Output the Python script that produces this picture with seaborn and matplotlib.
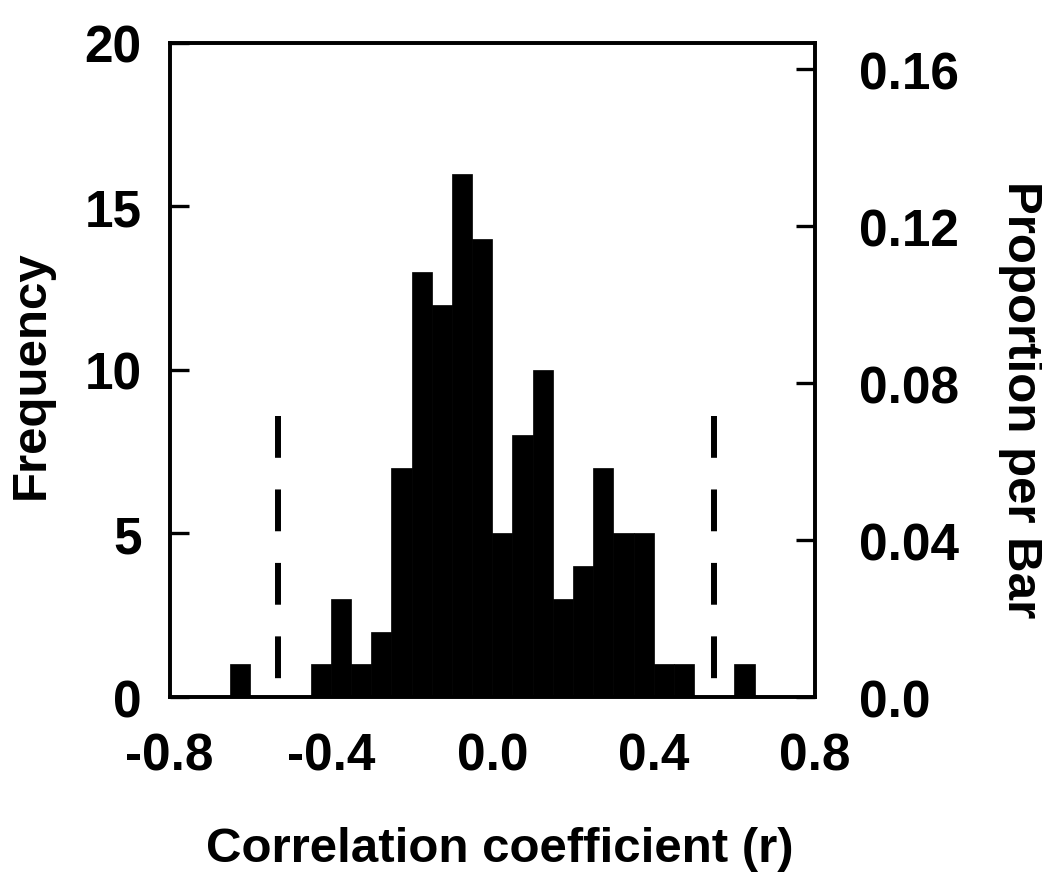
import matplotlib
matplotlib.use("Agg")
import matplotlib.pyplot as plt
import numpy as np
import pandas as pd
import seaborn as sns

# histogram bins (left edges, width 0.05) and counts
bin_left = [-0.65, -0.45, -0.40, -0.35, -0.30, -0.25, -0.20, -0.15, -0.10, -0.05,
            0.00, 0.05, 0.10, 0.15, 0.20, 0.25, 0.30, 0.35, 0.40, 0.45, 0.60]
counts = [1, 1, 3, 1, 2, 7, 13, 12, 16, 14,
          5, 8, 10, 3, 4, 7, 5, 5, 1, 1, 1]
bin_width = 0.05

# dashed reference lines (x position, y extent in counts)
ref_x = [-0.53, 0.55]
ref_top = 8.6
ref_bottom = 0.46

x_ticks = [-0.8, -0.4, 0.0, 0.4, 0.8]
x_ticklabels = ['-0.8', '-0.4', '0.0', '0.4', '0.8']
left_ticks = [0, 5, 10, 15, 20]
right_ticks = [0.0, 0.04, 0.08, 0.12, 0.16]
right_ticklabels = ['0.0', '0.04', '0.08', '0.12', '0.16']

sns.set_style('white')
plt.rcParams['font.family'] = ['Liberation Sans', 'DejaVu Sans']
plt.rcParams['font.weight'] = 'bold'
plt.rcParams['text.color'] = 'black'
plt.rcParams['axes.labelcolor'] = 'black'
plt.rcParams['xtick.color'] = 'black'
plt.rcParams['ytick.color'] = 'black'

fig = plt.figure(figsize=(10.42, 8.78), dpi=100)
ax = fig.add_axes([0.1627, 0.205, 0.6195, 0.745])

df = pd.DataFrame({'r': np.array(bin_left) + bin_width / 2, 'n': counts})
edges = [round(v, 4) for v in np.arange(-0.8, 0.8 + bin_width / 2, bin_width)]
sns.histplot(data=df, x='r', weights='n', bins=edges, color='black', alpha=1,
             edgecolor='black', linewidth=0.5, ax=ax)

for xv in ref_x:
    ax.plot([xv, xv], [ref_top, ref_bottom], color='black', lw=4.3,
            dashes=(7, 5.3), solid_capstyle='butt', dash_capstyle='butt')

ax.set_xlim(-0.8, 0.8)
ax.set_ylim(0, 20)
ax.set_xticks(x_ticks)
ax.set_xticklabels(x_ticklabels)
ax.set_yticks(left_ticks)

total = sum(counts)
ax2 = ax.twinx()
ax2.set_ylim(0, 20 / total)
ax2.set_yticks(right_ticks)
ax2.set_yticklabels(right_ticklabels)

for a in (ax, ax2):
    for s in a.spines.values():
        s.set_linewidth(2.6)
        s.set_color('black')
        s.set_visible(True)

ax.tick_params(axis='x', length=0, pad=25, labelsize=37, labelcolor='black')
ax.tick_params(axis='y', direction='in', length=14, width=2.4, pad=20,
               labelsize=37, labelcolor='black')
ax2.tick_params(axis='y', direction='in', length=14, width=2.4, pad=32,
                labelsize=37, labelcolor='black')

ax.set_xlabel('Correlation coefficient (r)', fontsize=35.5, fontweight='bold', color='black')
ax.set_ylabel('Frequency', fontsize=35.5, fontweight='bold', color='black')
ax2.set_ylabel('Proportion per Bar', fontsize=35.5, fontweight='bold', color='black',
               rotation=270)

ax.xaxis.set_label_coords(0.512, -0.231)
ax.yaxis.set_label_coords(-0.2146, 0.494)
ax2.yaxis.set_label_coords(1.318, 0.456)
for lab in (ax.xaxis.label, ax.yaxis.label, ax2.yaxis.label):
    lab.set_verticalalignment('center')
    lab.set_horizontalalignment('center')

fig.savefig('out.png', dpi=100)
